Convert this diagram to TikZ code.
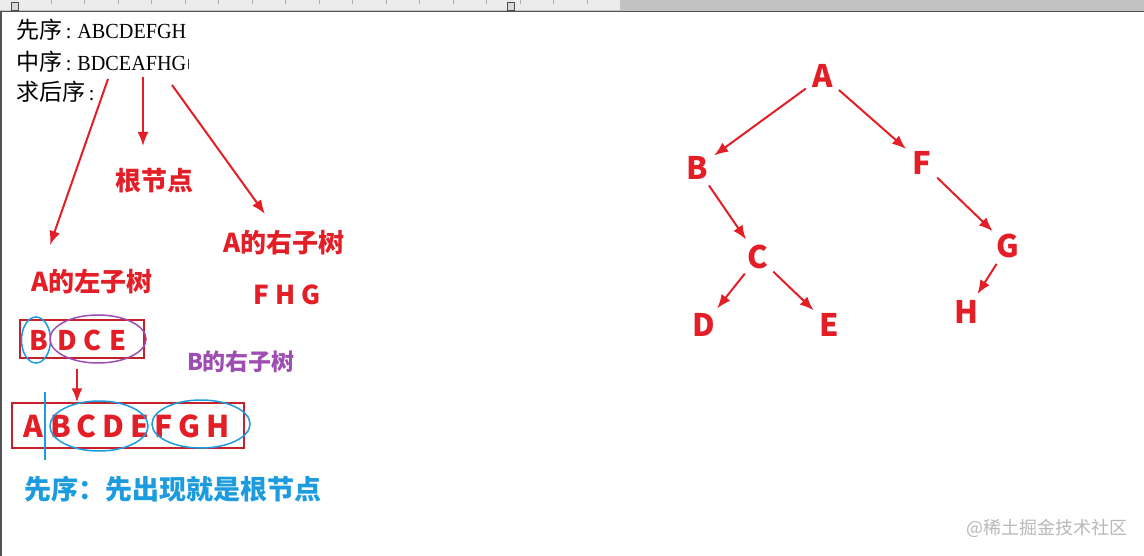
\documentclass[tikz,border=0pt]{standalone}
\usepackage{fontspec}
\setmainfont[FakeStretch=0.94]{Liberation Serif}
\newfontfamily\cjk{Noto Sans CJK SC}
\usetikzlibrary{arrows,arrows.meta}
\definecolor{inkred}{RGB}{228,30,38}
\definecolor{boxred}{RGB}{198,32,42}
\definecolor{inkblue}{RGB}{28,156,222}
\definecolor{inkpurple}{RGB}{158,78,178}
\tikzset{
  plain/.style={anchor=base west, inner sep=0pt, font=\fontsize{21.5}{24}\selectfont},
  redlbl/.style={text=inkred, inner sep=0pt, font=\cjk\bfseries\fontsize{26}{30}\selectfont},
  treenode/.style={circle, minimum size=42pt, inner sep=0pt, text=inkred,
    font=\cjk\bfseries\fontsize{31}{32}\selectfont},
  letter/.style={text=inkred, inner sep=0pt, font=\cjk\bfseries\fontsize{#1}{30}\selectfont},
  arr/.style={->, draw=inkred, line width=2pt},
  rowbox/.style={draw=boxred, line width=1.5pt, inner sep=0pt},
  blueline/.style={draw=inkblue, line width=1.5pt},
}
\begin{document}
\begin{tikzpicture}[>={Latex[length=14pt,width=11pt]}, x=1pt, y=-1pt]

    % screenshot frame
    \useasboundingbox (0,0) rectangle (1144,556);
    \fill[white] (0,0) rectangle (1144,556);
    \fill[gray!48] (0,0) rectangle (1144,11);
    \fill[gray!15] (0,0) rectangle (620,10);
    \foreach \t in {51,84.5,...,600} \draw[gray!65] (\t,0) -- (\t,4);
    \draw[gray!60!black, fill=gray!30] (11,2) rectangle (18,10);
    \draw[gray!60!black, fill=gray!30] (507,2) rectangle (514,10);
    \draw[gray!65!black, line width=1.5pt] (0,11.5) -- (1144,11.5);
    \draw[gray!65!black, line width=2pt] (1,11) -- (1,556);

    % the question
    \node[plain] (pre) at (16,39) {{\cjk\fontsize{23}{24}\selectfont 先序}\,:\;ABCDEFGH};
    \node[plain] (mid) at (16,71) {{\cjk\fontsize{23}{24}\selectfont 中序}\,:\;BDCEAFHG};
    \node[plain] (post) at (16,101) {{\cjk\fontsize{23}{24}\selectfont 求后序}\,:};
    \draw[gray!40!black, line width=0.8pt] ([xshift=2pt,yshift=-8pt]mid.north east) -- ([xshift=2pt,yshift=4pt]mid.south east);

    % labels
    \node[redlbl] (root) at (154,181) {根节点};
    \node[redlbl] (rsub) at (284,243) {A的右子树};
    \node[redlbl] (lsub) at (92,282) {A的左子树};
    \node[redlbl] (fhg) at (287,295) {F H G};
    \node[redlbl, text=inkpurple, font=\cjk\bfseries\fontsize{23}{26}\selectfont] (bsub) at (241,362) {B的右子树};
    \node[text=inkblue, inner sep=0pt, font=\cjk\bfseries\fontsize{27}{30}\selectfont] (rule) at (173,489) {先序：先出现就是根节点};

    % arrows from the inorder line
    \coordinate (s1) at (108,79);
    \coordinate (s2) at (143,77);
    \coordinate (s3) at (172,85);
    \coordinate (e1) at (50,245);
    \coordinate (e2) at (143,146);
    \coordinate (e3) at (265,214);
    \draw[arr] (s1) -- (e1);
    \draw[arr] (s2) -- (e2);
    \draw[arr] (s3) -- (e3);

    % first row: B D C E
    \node[rowbox, minimum width=124pt, minimum height=38pt] (row1) at (82,339) {};
    \foreach \c/\x in {B/39,D/67,C/93,E/118}
        \node[letter=27] (a\c) at (\x,340) {\c};
    \draw[blueline] (36,340) ellipse [x radius=14.5pt, y radius=23pt];
    \draw[draw=inkpurple, line width=1.5pt] (98,339) ellipse [x radius=48pt, y radius=24pt];

    % second row: A B C D E F G H
    \node[rowbox, minimum width=232pt, minimum height=45pt] (row2) at (128,425.5) {};
    \foreach \c/\x in {A/33,B/61,C/87,D/113,E/140,F/164,G/189,H/218}
        \node[letter=30] (b\c) at (\x,426) {\c};
    \draw[blueline] (45,392) -- (45,460);
    \draw[blueline] (99,426) ellipse [x radius=49pt, y radius=25pt];
    \draw[blueline] (201,424) ellipse [x radius=49pt, y radius=24pt];
    \coordinate (d1) at (77,369);
    \draw[arr] (d1) -- (d1 |- row2.north);

    % the tree
    \node[treenode] (A) at (823,76) {A};
    \node[treenode] (B) at (697,168) {B};
    \node[treenode] (F) at (922,163) {F};
    \node[treenode] (C) at (758,257) {C};
    \node[treenode] (G) at (1008,246) {G};
    \node[treenode] (D) at (704,325) {D};
    \node[treenode] (E) at (829,325) {E};
    \node[treenode] (H) at (966,312) {H};
    \foreach \u/\v in {A/B,A/F,B/C,F/G,C/D,C/E,G/H}
        \draw[arr] (\u) -- (\v);

    % watermark
    \node[text=gray!55, inner sep=0pt, font=\cjk\fontsize{18}{20}\selectfont] (mark) at (1047,528) {@稀土掘金技术社区};

\end{tikzpicture}
\end{document}
